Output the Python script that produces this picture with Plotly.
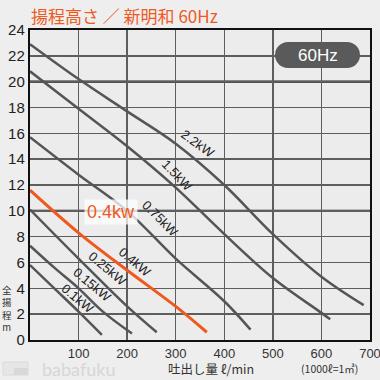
import plotly.graph_objects as go

# ---- data ----
q_22 = [0, 100, 200, 300, 400, 500, 600, 687]
h_22 = [22.9, 20.2, 17.7, 15.2, 12.0, 8.2, 4.9, 2.7]
q_15 = [0, 100, 200, 300, 400, 500, 600, 618]
h_15 = [20.8, 17.9, 15.0, 11.8, 8.2, 4.8, 2.1, 1.6]
q_075 = [0, 100, 200, 300, 400, 454]
h_075 = [15.7, 12.8, 10.0, 6.3, 3.0, 0.8]
q_04 = [0, 100, 200, 300, 364]
h_04 = [11.6, 8.3, 5.4, 2.6, 0.6]
q_025 = [0, 100, 200, 261]
h_025 = [10.1, 6.3, 2.6, 0.6]
q_015 = [0, 50, 100, 150, 210]
h_015 = [7.3, 5.6, 4.0, 2.2, 0.5]
q_01 = [0, 50, 100, 148]
h_01 = [5.8, 4.0, 2.2, 0.4]

x_ticks = [100, 200, 300, 400, 500, 600, 700]
y_ticks = list(range(0, 25, 2))

labels = ["2.2kW", "1.5kW", "0.75kW", "0.4kW", "0.25kW", "0.15kW", "0.1kW"]
label_x = [345, 303, 268, 217, 159, 128, 98]
label_y = [15.2, 12.7, 9.4, 6.0, 5.5, 4.3, 3.2]
label_angle = [36, 46, 45, 40, 40, 40, 40]

title_text = "揚程高さ ／ 新明和 60Hz"
badge_text = "60Hz"
highlight_text = "0.4kw"
ytitle_text = "全<br>揚<br>程<br>m"
xtitle_text = "吐出し量 ℓ/min"
unit_text = "(1000ℓ=1㎥)"
watermark = "babafuku"

GRAY = "#555555"
ORANGE = "#ee5a1e"

fig = go.Figure()
series = [(q_22, h_22), (q_15, h_15), (q_075, h_075), (q_025, h_025),
          (q_015, h_015), (q_01, h_01)]
for q, h in series:
    fig.add_trace(go.Scatter(x=q, y=h, mode="lines",
                             line=dict(color=GRAY, width=2.5, shape="spline", smoothing=1.0),
                             hoverinfo="skip", showlegend=False))
fig.add_trace(go.Scatter(x=q_04, y=h_04, mode="lines",
                         line=dict(color=ORANGE, width=3, shape="spline", smoothing=1.0),
                         hoverinfo="skip", showlegend=False))

def px2paper(px, py):
    return (px - 30) / 340.0, (340 - py) / 310.0

annotations = []
for t, x, y, a in zip(labels, label_x, label_y, label_angle):
    annotations.append(dict(x=x, y=y, xref="x", yref="y", text=t, showarrow=False,
                            textangle=a, font=dict(family="Liberation Sans, Arial", size=13, color="#222")))

annotations.append(dict(x=166, y=9.9, xref="x", yref="y", text=highlight_text, showarrow=False,
                        font=dict(family="Liberation Sans, Arial", size=18, color=ORANGE),
                        bgcolor="rgba(255,255,255,0.75)", borderpad=2))

tx, ty = px2paper(29, 15)
annotations.append(dict(x=tx, y=ty, xref="paper", yref="paper", text=title_text, showarrow=False,
                        xanchor="left", yanchor="middle",
                        font=dict(family="Noto Sans CJK JP", size=17, color=ORANGE)))

bx, by = px2paper(317.5, 55)
annotations.append(dict(x=bx, y=by, xref="paper", yref="paper", text=badge_text, showarrow=False,
                        xanchor="center", yanchor="middle",
                        font=dict(family="Liberation Sans, Arial", size=17, color="white")))

cx, cy = px2paper(6.5, 308)
annotations.append(dict(x=cx, y=cy, xref="paper", yref="paper", text=ytitle_text, showarrow=False,
                        xanchor="center", yanchor="middle", align="center",
                        font=dict(family="Noto Sans CJK JP", size=9.5, color="#333")))

xx, xy = px2paper(211, 368)
annotations.append(dict(x=xx, y=xy, xref="paper", yref="paper", text=xtitle_text, showarrow=False,
                        xanchor="center", yanchor="middle", borderpad=0,
                        font=dict(family="Noto Sans CJK JP", size=12.5, color="#333")))
ux, uy = px2paper(329, 368)
annotations.append(dict(x=ux, y=uy, xref="paper", yref="paper", text=unit_text, showarrow=False,
                        xanchor="center", yanchor="middle", borderpad=0,
                        font=dict(family="Noto Sans CJK JP", size=10.5, color="#333")))
wx, wy = px2paper(78, 369)
annotations.append(dict(x=wx, y=wy, xref="paper", yref="paper", text=watermark, showarrow=False,
                        xanchor="center", yanchor="middle", borderpad=0,
                        font=dict(family="Lato", size=18, color="#d6d6d6")))

shapes = []
# thick lines at 10 and 20
for yv in (10, 20):
    shapes.append(dict(type="line", xref="paper", yref="y", x0=0, x1=1, y0=yv, y1=yv,
                       line=dict(color="#1e1e1e", width=2.2), layer="between"))
# badge (pill) = rect + two circles, sized in pixels
hw, hh = 42.5, 13
pill = dict(xref="paper", yref="paper", xsizemode="pixel", ysizemode="pixel",
            xanchor=bx, yanchor=by, fillcolor="#5a5a5a", line=dict(width=0), layer="above")
shapes.append(dict(type="rect", x0=-hw + hh, x1=hw - hh, y0=-hh, y1=hh, **pill))
shapes.append(dict(type="circle", x0=-hw, x1=-hw + 2 * hh, y0=-hh, y1=hh, **pill))
shapes.append(dict(type="circle", x0=hw - 2 * hh, x1=hw, y0=-hh, y1=hh, **pill))
# logo
lx0, ly0 = px2paper(3, 375)
lx1, ly1 = px2paper(28, 362)
shapes.append(dict(type="rect", xref="paper", yref="paper", x0=lx0, x1=lx1, y0=ly0, y1=ly1,
                   fillcolor="#e6e6e6", line=dict(color="#dadada", width=1)))
mx0, my0 = px2paper(14, 375)
mx1, my1 = px2paper(28, 368)
shapes.append(dict(type="rect", xref="paper", yref="paper", x0=mx0, x1=mx1, y0=my0, y1=my1,
                   fillcolor="#d8d8d8", line=dict(width=0)))

fig.update_layout(
    width=380, height=380,
    margin=dict(l=30, r=10, t=30, b=40, autoexpand=False),
    paper_bgcolor="#eeeeee", plot_bgcolor="#ececec",
    annotations=annotations, shapes=shapes, showlegend=False,
)
fig.update_xaxes(range=[0, 700], tickvals=x_ticks, showgrid=True, gridcolor="#5e5e5e", gridwidth=1.4,
                 showline=True, linecolor="#111", linewidth=2.2, mirror=True, zeroline=False,
                 automargin=False, ticklabeloverflow="allow",
                 ticks="", tickfont=dict(family="Liberation Sans, Arial", size=13, color="#333"))
fig.update_yaxes(range=[0, 24], tickvals=y_ticks, showgrid=True, gridcolor="#5e5e5e", gridwidth=1.4,
                 showline=True, linecolor="#111", linewidth=2.2, mirror=True, zeroline=False,
                 automargin=False,
                 ticks="", tickfont=dict(family="Liberation Sans, Arial", size=15, color="#222"))

fig.write_html("out.html", config={"displayModeBar": False, "staticPlot": True},
               post_script="document.body.style.margin='0';document.body.style.overflow='hidden';")
